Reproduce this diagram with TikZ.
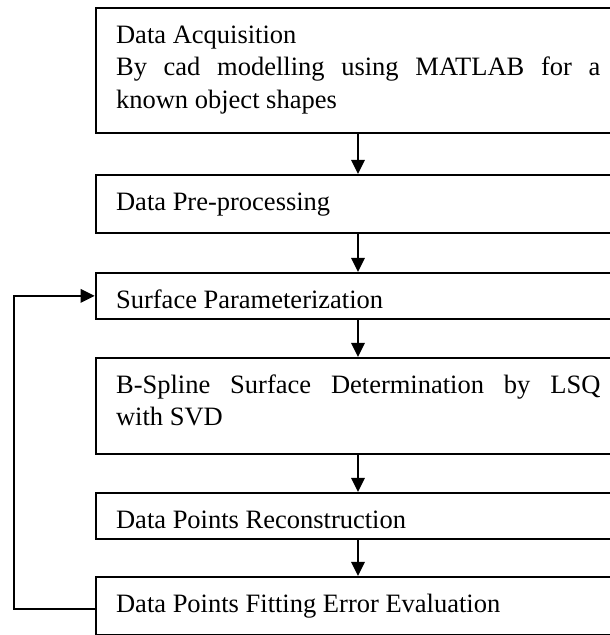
\documentclass[tikz,border=0pt]{standalone}
\usepackage{fontspec}
\setmainfont{Liberation Serif}
\usetikzlibrary{arrows.meta}
\begin{document}
\begin{tikzpicture}[x=1pt,y=1pt,
  stagebox/.style={draw, line width=1.8pt, rectangle, anchor=north west,
    inner xsep=20.5pt, inner ysep=0pt, text width=484.3pt, align=justify,
    text height=35.5pt,
    font=\fontsize{26.5pt}{32.5pt}\selectfont},
  flowarrow/.style={line width=1.8pt, -{Triangle[length=14pt,width=13.5pt]}}]
\path[use as bounding box] (0,0) rectangle (610,635);
\clip (0,0) rectangle (610,635);
\node[stagebox, text depth=89.5pt] (b1) at (94.7,628)
  {Data Acquisition\\ By cad modelling using MATLAB for a\linebreak known object shapes};
\node[stagebox, text depth=22.5pt] (b2) at (94.7,461) {Data Pre-processing};
\node[stagebox, text depth=10.5pt] (b3) at (94.7,363) {Surface Parameterization};
\node[stagebox, text depth=60.5pt] (b4) at (94.7,278)
  {B-Spline Surface Determination by LSQ\linebreak with SVD};
\node[stagebox, text depth=10.5pt] (b5) at (94.7,143) {Data Points Reconstruction};
\node[stagebox, text depth=22.5pt] (b6) at (94.7,59) {Data Points Fitting Error Evaluation};
\coordinate (ax) at (358,0);
\coordinate (lx) at (14,0);
\draw[flowarrow] (b1.south -| ax) -- (b2.north -| ax);
\draw[flowarrow] (b2.south -| ax) -- (b3.north -| ax);
\draw[flowarrow] (b3.south -| ax) -- (b4.north -| ax);
\draw[flowarrow] (b4.south -| ax) -- (b5.north -| ax);
\draw[flowarrow] (b5.south -| ax) -- (b6.north -| ax);
\draw[flowarrow] ([yshift=-3pt]b6.west) -- ([yshift=-3pt]b6.west -| lx) -- (b3.west -| lx) -- (b3.west);
\end{tikzpicture}
\end{document}
